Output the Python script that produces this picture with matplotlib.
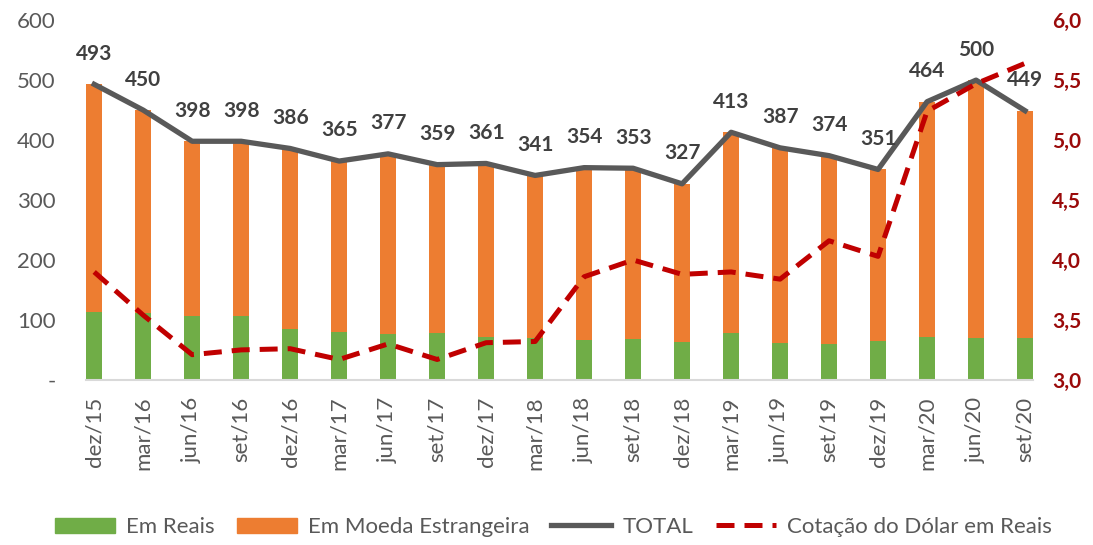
import numpy as np
import matplotlib
matplotlib.use("Agg")
import matplotlib.pyplot as plt
from matplotlib.ticker import FuncFormatter
from matplotlib.lines import Line2D
from matplotlib.patches import Patch

plt.rcParams['font.family'] = ['Lato', 'DejaVu Sans']

categories = ['dez/15', 'mar/16', 'jun/16', 'set/16', 'dez/16', 'mar/17', 'jun/17', 'set/17',
              'dez/17', 'mar/18', 'jun/18', 'set/18', 'dez/18', 'mar/19', 'jun/19', 'set/19',
              'dez/19', 'mar/20', 'jun/20', 'set/20']
total = [493, 450, 398, 398, 386, 365, 377, 359, 361, 341, 354, 353, 327, 413, 387, 374,
         351, 464, 500, 449]
em_reais = [114, 111, 107, 106, 84.5, 80.5, 76, 78, 72, 69.5, 67, 68, 63, 78, 61, 60.5,
            64.5, 72, 70.5, 70.5]
dolar = [3.90, 3.54, 3.21, 3.25, 3.26, 3.17, 3.30, 3.17, 3.31, 3.32, 3.86, 4.00, 3.88, 3.90,
         3.84, 4.16, 4.03, 5.24, 5.47, 5.64]

em_moeda = [t - r for t, r in zip(total, em_reais)]

green = '#70AD47'
orange = '#ED7D31'
gray = '#595959'
red = '#C00000'
darkred = '#9A0A0A'

fig = plt.figure(figsize=(10.93, 5.45), dpi=100)
ax = fig.add_axes([0.079, 0.303, 0.866, 0.66])
x = np.arange(len(categories))
w = 0.32

ax.bar(x, em_reais, w, color=green, zorder=2)
ax.bar(x, em_moeda, w, bottom=em_reais, color=orange, zorder=2)
ax.plot(x, total, color=gray, lw=3.8, zorder=3)

for xi, t in zip(x, total):
    ax.annotate(str(t), (xi, t), xytext=(0, 22), textcoords='offset points',
                ha='center', va='center', fontsize=15, fontweight='bold', color='#404040')

ax.set_ylim(0, 600)
ax.set_xlim(-w / 2, len(categories) - 1 + w / 2)
ax.set_yticks(range(0, 601, 100))
ax.yaxis.set_major_formatter(FuncFormatter(lambda v, p: '-' if v == 0 else f'{int(v)}'))
ax.set_xticks(x)
ax.set_xticklabels(categories, rotation=90)
ax.tick_params(axis='both', length=0, labelsize=16, labelcolor=gray)
ax.tick_params(axis='x', pad=12)
ax.tick_params(axis='y', pad=22)
for s in ['top', 'right', 'left']:
    ax.spines[s].set_visible(False)
ax.spines['bottom'].set_color('#D9D9D9')
ax.spines['bottom'].set_linewidth(1.5)

ax2 = ax.twinx()
ax2.plot(x, dolar, color=red, lw=3.6, dashes=(3.6, 2.0), zorder=4)
ax2.set_ylim(3.0, 6.0)
ax2.set_yticks(np.arange(3.0, 6.01, 0.5))
ax2.yaxis.set_major_formatter(FuncFormatter(lambda v, p: f'{v:.1f}'.replace('.', ',')))
ax2.tick_params(axis='y', length=0, labelsize=15, labelcolor=darkred, pad=14)
for lab in ax2.get_yticklabels():
    lab.set_fontweight('bold')
for s in ['top', 'right', 'left', 'bottom']:
    ax2.spines[s].set_visible(False)

handles = [Patch(color=green), Patch(color=orange),
           Line2D([], [], color=gray, lw=3.8),
           Line2D([], [], color=red, lw=3.6, dashes=(3.6, 2.0))]
labels = ['Em Reais', 'Em Moeda Estrangeira', 'TOTAL', 'Cotação do Dólar em Reais']
leg = fig.legend(handles, labels, loc='lower center', bbox_to_anchor=(0.506, -0.022), ncol=4,
                 frameon=False, fontsize=16, handlelength=2.7, handleheight=0.65,
                 columnspacing=1.0, handletextpad=0.5)
for t in leg.get_texts():
    t.set_color(gray)

fig.savefig('out.png', dpi=100)
